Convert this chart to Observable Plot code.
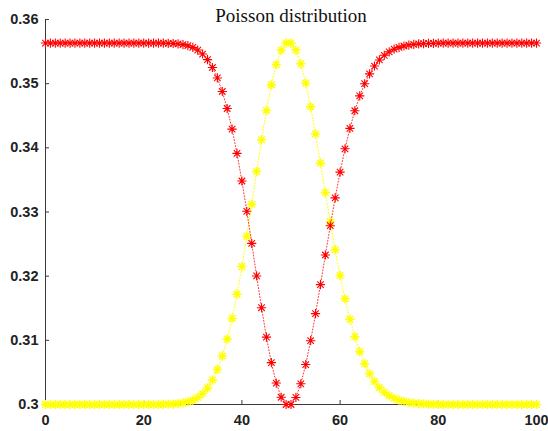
<!DOCTYPE html>
<html>
<head>
<meta charset="utf-8">
<script src="https://cdn.jsdelivr.net/npm/d3@7"></script>
<script src="https://cdn.jsdelivr.net/npm/@observablehq/plot@0.6"></script>
<style>
  html, body { margin: 0; padding: 0; background: #fff; }
</style>
</head>
<body>
<div id="chart"></div>
<script>
const title = "Poisson distribution";
const xValues = d3.range(0, 101);
// yellow series (0..100)
const yellowValues = [
  0.3,0.3,0.3,0.3,0.3,0.3,0.3,0.3,0.3,0.3,
  0.3,0.3,0.3,0.3,0.3,0.3,0.3,0.3,0.3,0.3,
  0.3,0.3,0.3,0.3,0.30002,0.30004,0.30007,0.30014,0.30024,0.30041,
  0.30068,0.30109,0.30171,0.30259,0.30381,0.30544,0.30755,0.31020,0.31342,0.31720,
  0.32150,0.32622,0.33122,0.33630,0.34125,0.34583,0.34981,0.35299,0.35520,0.35633,
  0.35633,0.35523,0.35310,0.35010,0.34639,0.34217,0.33765,0.33303,0.32847,0.32413,
  0.32011,0.31648,0.31329,0.31055,0.30824,0.30634,0.30480,0.30358,0.30263,0.30191,
  0.30136,0.30096,0.30067,0.30046,0.30031,0.30021,0.30014,0.30009,0.30006,0.30004,
  0.30002,0.3,0.3,0.3,0.3,0.3,0.3,0.3,0.3,0.3,
  0.3,0.3,0.3,0.3,0.3,0.3,0.3,0.3,0.3,0.3,
  0.3
];
// red series (0..100)
const redValues = [
  0.35633,0.35633,0.35633,0.35633,0.35633,0.35633,0.35633,0.35633,0.35633,0.35633,
  0.35633,0.35633,0.35633,0.35633,0.35633,0.35633,0.35633,0.35633,0.35633,0.35633,
  0.35633,0.35633,0.35633,0.35633,0.35631,0.35629,0.35626,0.35619,0.35609,0.35592,
  0.35565,0.35524,0.35462,0.35374,0.35252,0.35089,0.34878,0.34613,0.34291,0.33913,
  0.33483,0.33011,0.32511,0.32003,0.31508,0.31050,0.30652,0.30334,0.30113,0.30000,
  0.30000,0.30110,0.30323,0.30623,0.30994,0.31416,0.31868,0.32330,0.32786,0.33220,
  0.33622,0.33985,0.34304,0.34578,0.34809,0.34999,0.35153,0.35275,0.35370,0.35442,
  0.35497,0.35537,0.35566,0.35587,0.35602,0.35612,0.35619,0.35624,0.35627,0.35629,
  0.35631,0.35633,0.35633,0.35633,0.35633,0.35633,0.35633,0.35633,0.35633,0.35633,
  0.35633,0.35633,0.35633,0.35633,0.35633,0.35633,0.35633,0.35633,0.35633,0.35633,
  0.35633
];
const xTicks = [0, 20, 40, 60, 80, 100];
const yTicks = [0.30, 0.31, 0.32, 0.33, 0.34, 0.35, 0.36];
const yTickLabels = ["0.3", "0.31", "0.32", "0.33", "0.34", "0.35", "0.36"];

const yellow = xValues.map((x, i) => ({x, y: yellowValues[i]}));
const red = xValues.map((x, i) => ({x, y: redValues[i]}));

const axisColor = "#3a3a3a";

// 8-armed asterisk, like MATLAB's '*' marker
const star8 = {
  draw(context, size) {
    const r = Math.sqrt(size / Math.PI);
    for (let k = 0; k < 4; k++) {
      const a = k * Math.PI / 4;
      const dx = r * Math.cos(a), dy = r * Math.sin(a);
      context.moveTo(-dx, -dy);
      context.lineTo(dx, dy);
    }
  }
};

const chart = Plot.plot({
  width: 548,
  height: 431,
  marginLeft: 45,
  marginRight: 12,
  marginTop: 19,
  marginBottom: 27,
  style: {fontFamily: "'Liberation Sans', Arial, sans-serif", background: "#fff", overflow: "visible"},
  x: {domain: [0, 100]},
  y: {domain: [0.30, 0.36]},
  marks: [
    Plot.ruleX([0], {stroke: axisColor, strokeWidth: 1}),
    Plot.ruleY([0.30], {stroke: axisColor, strokeWidth: 1}),
    Plot.axisY({ticks: yTicks, tickSize: -4, tickPadding: 11, stroke: axisColor,
      tickFormat: (d) => yTickLabels[yTicks.findIndex(t => Math.abs(t - d) < 1e-9)],
      fontSize: 14.5, fontWeight: "bold", fill: "#222", label: null}),
    Plot.axisX({ticks: xTicks, tickSize: -4, tickPadding: 14, stroke: axisColor,
      fontSize: 14.5, fontWeight: "bold", fill: "#222", label: null}),
    Plot.line(yellow, {x: "x", y: "y", stroke: "#ffff00", strokeWidth: 1, strokeDasharray: "1,2"}),
    Plot.dot(yellow, {x: "x", y: "y", symbol: star8, stroke: "#ffff00", r: 4.6, strokeWidth: 1.5}),
    Plot.line(red, {x: "x", y: "y", stroke: "#ff0000", strokeWidth: 1, strokeDasharray: "1,2", strokeOpacity: 0.8}),
    Plot.dot(red, {x: "x", y: "y", symbol: star8, stroke: "#ff0000", r: 4.6, strokeWidth: 1.1}),
    Plot.text([title], {frameAnchor: "top", dy: -4, text: d => d, fontSize: 19,
      fontFamily: "'Liberation Serif', 'Times New Roman', serif", fill: "#111", lineAnchor: "middle"})
  ]
});
document.getElementById("chart").appendChild(chart);
</script>
</body>
</html>
